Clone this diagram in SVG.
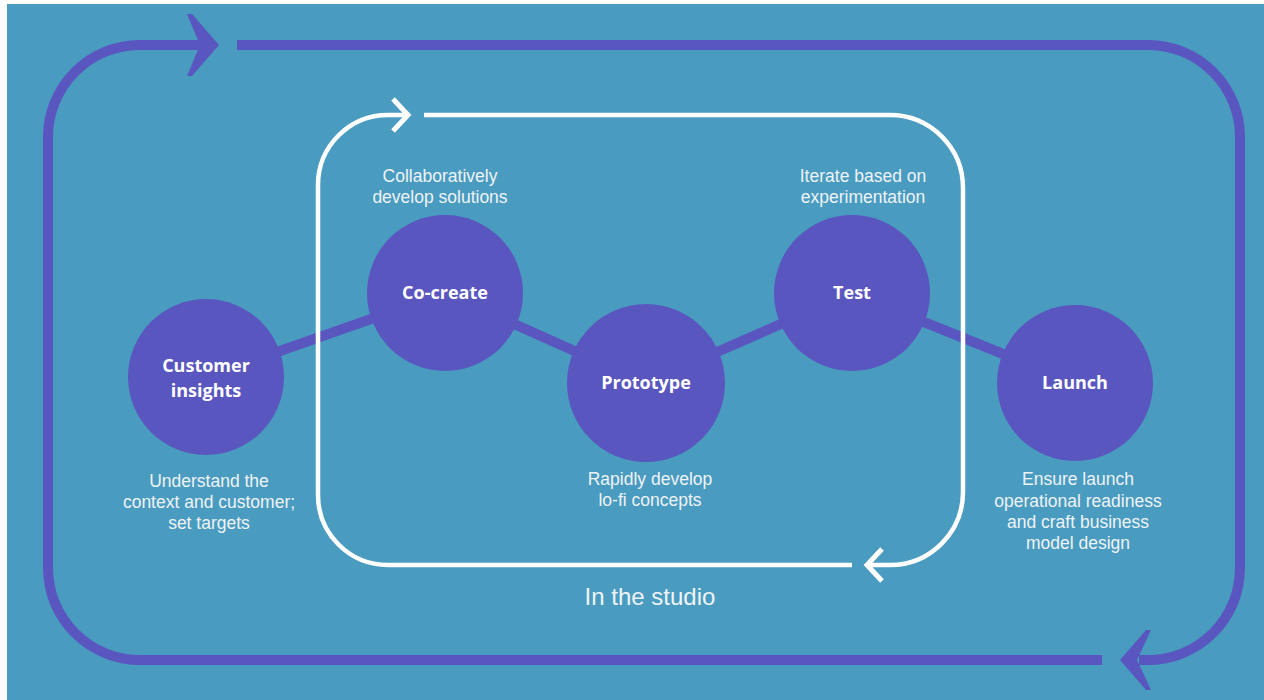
<svg xmlns="http://www.w3.org/2000/svg" width="1264" height="700" viewBox="0 0 1264 700">
  <style>
    .bg { fill: #4A9BC0; }
    .outer { fill: none; stroke: #5A56BF; stroke-width: 10; }
    .outerHead { fill: #5A56BF; }
    .inner { fill: none; stroke: #FFFFFF; stroke-width: 4.5; }
    .innerHead { fill: none; stroke: #FFFFFF; stroke-width: 5; stroke-linejoin: miter; stroke-linecap: butt; }
    .link { stroke: #5A56BF; stroke-width: 10; }
    .node { fill: #5A56BF; }
    .label { font-family: "Open Sans", "Liberation Sans", sans-serif; font-weight: bold; font-size: 18px; fill: #FFFFFF; text-anchor: middle; }
    .desc { font-family: "Liberation Sans", Arial, sans-serif; font-size: 17.5px; fill: #EEF3F6; text-anchor: middle; }
    .title { font-family: "Liberation Sans", Arial, sans-serif; font-size: 24px; fill: #EEF3F6; text-anchor: middle; }
  </style>
  <rect x="0" y="0" width="1264" height="700" fill="#FFFFFF"/>
  <rect class="bg" x="7" y="4" width="1257" height="696"/>

  <g id="outer-loop">
    <path class="outer" d="M1102,660 H140 A92,92 0 0 1 48,568 V137 A92,92 0 0 1 140,45 H204"/>
    <polygon class="outerHead" points="187,14 192,14 219,45 192,76 187,76 200,45"/>
    <path class="outer" d="M237,45 H1148 A92,92 0 0 1 1240,137 V568 A92,92 0 0 1 1148,660 H1139"/>
    <polygon class="outerHead" points="1151,630 1146,630 1120,660 1146,690 1151,690 1137,660"/>
  </g>

  <g id="connectors">
    <line class="link" x1="206" y1="377" x2="445" y2="293"/>
    <line class="link" x1="445" y1="293" x2="646" y2="383"/>
    <line class="link" x1="646" y1="383" x2="852" y2="293"/>
    <line class="link" x1="852" y1="293" x2="1075" y2="383"/>
  </g>

  <g id="studio-loop">
    <path class="inner" d="M852,565 H388 A70,70 0 0 1 318,495 V185 A70,70 0 0 1 388,115 H404"/>
    <polyline class="innerHead" points="393,99 408,115 393,131"/>
    <path class="inner" d="M424,115 H890 A73,73 0 0 1 963,188 V492 A73,73 0 0 1 890,565 H870"/>
    <polyline class="innerHead" points="882,549 867,565 882,581"/>
  </g>

  <g id="node-customer-insights">
    <circle class="node" cx="206" cy="377" r="78"/>
    <text class="label" x="206" y="372">Customer</text>
    <text class="label" x="206" y="397">insights</text>
    <text class="desc" x="209" y="487">Understand the</text>
    <text class="desc" x="209" y="508">context and customer;</text>
    <text class="desc" x="209" y="529">set targets</text>
  </g>

  <g id="node-co-create">
    <circle class="node" cx="445" cy="293" r="78"/>
    <text class="label" x="445" y="299">Co-create</text>
    <text class="desc" x="440" y="182">Collaboratively</text>
    <text class="desc" x="440" y="203">develop solutions</text>
  </g>

  <g id="node-prototype">
    <circle class="node" cx="646" cy="383" r="79"/>
    <text class="label" x="646" y="389">Prototype</text>
    <text class="desc" x="650" y="485">Rapidly develop</text>
    <text class="desc" x="650" y="506">lo-fi concepts</text>
  </g>

  <g id="node-test">
    <circle class="node" cx="852" cy="293" r="78"/>
    <text class="label" x="852" y="299">Test</text>
    <text class="desc" x="863" y="182">Iterate based on</text>
    <text class="desc" x="863" y="203">experimentation</text>
  </g>

  <g id="node-launch">
    <circle class="node" cx="1075" cy="383" r="78"/>
    <text class="label" x="1075" y="389">Launch</text>
    <text class="desc" x="1078" y="485">Ensure launch</text>
    <text class="desc" x="1078" y="507">operational readiness</text>
    <text class="desc" x="1078" y="528">and craft business</text>
    <text class="desc" x="1078" y="549">model design</text>
  </g>

  <text class="title" x="650" y="605">In the studio</text>
</svg>
